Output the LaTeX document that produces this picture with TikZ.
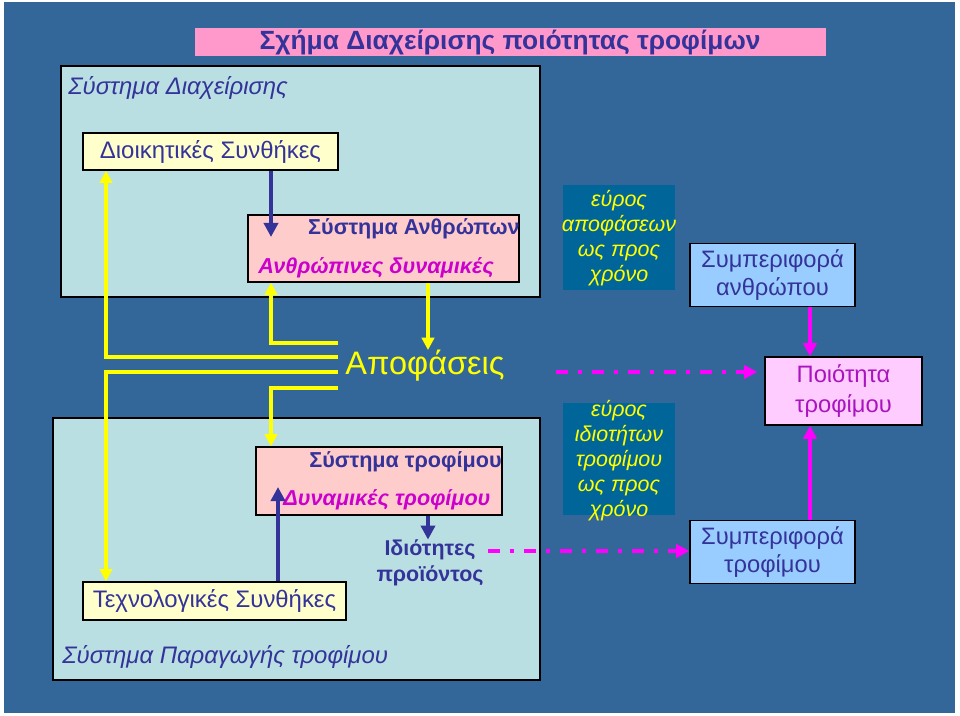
\documentclass[tikz,border=0pt]{standalone}
\usepackage{fontspec}
\setmainfont{Liberation Sans}
\usetikzlibrary{arrows.meta}

\definecolor{bgblue}{RGB}{51,102,153}
\definecolor{syscyan}{RGB}{185,223,226}
\definecolor{titlepink}{RGB}{255,153,204}
\definecolor{subpink}{RGB}{255,204,204}
\definecolor{condyellow}{RGB}{255,255,204}
\definecolor{rangeblue}{RGB}{0,102,153}
\definecolor{behavblue}{RGB}{153,204,255}
\definecolor{qualpink}{RGB}{255,204,255}
\definecolor{qualtext}{RGB}{170,20,190}
\definecolor{textblue}{RGB}{51,51,153}
\definecolor{dynmagenta}{RGB}{204,0,204}
\definecolor{arrowyellow}{RGB}{255,255,0}
\definecolor{arrowmagenta}{RGB}{255,0,255}

\tikzset{
  sysbox/.style={draw=black, fill=syscyan, line width=0.7pt},
  label/.style={inner sep=0pt, text=textblue},
  condbox/.style={draw=black, fill=condyellow, line width=0.7pt, text=textblue,
    font=\fontsize{13.6}{15}\selectfont},
  subbox/.style={draw=black, fill=subpink, line width=0.7pt},
  subtitle/.style={inner sep=0pt, text=textblue, font=\bfseries\fontsize{12.3}{14}\selectfont},
  dynlabel/.style={inner sep=0pt, text=dynmagenta, font=\bfseries\itshape\fontsize{12.3}{14}\selectfont},
  rangebox/.style={fill=rangeblue},
  rangetext/.style={inner sep=0pt, align=center, text=arrowyellow, font=\itshape\fontsize{12.2}{14.2}\selectfont},
  behavbox/.style={draw=black, fill=behavblue, line width=0.7pt, align=center, text=textblue,
    font=\fontsize{13.5}{16.4}\selectfont},
  qualbox/.style={draw=black, fill=qualpink, line width=0.7pt, align=center, text=qualtext,
    font=\fontsize{13.5}{16.8}\selectfont},
  yellowline/.style={draw=arrowyellow, line width=2.3pt, -{Triangle[width=7pt,length=7pt]}},
  blueline/.style={draw=textblue, line width=2.8pt, -{Triangle[width=8pt,length=8pt]}},
  magline/.style={draw=arrowmagenta, line width=2.8pt, -{Triangle[width=7.5pt,length=7.5pt]}},
  dashdotline/.style={draw=arrowmagenta, line width=2.3pt, dash pattern=on 6.8pt off 5.7pt on 2.3pt off 5.7pt,
    -{Triangle[width=7.5pt,length=7.5pt]}}
}

\begin{document}
\begin{tikzpicture}[x=0.02cm, y=-0.02cm]
\useasboundingbox (0,0) rectangle (960,716);
\fill[white] (0,0) rectangle (960,716);
\fill[bgblue] (4,2) rectangle (955,713);

\fill[titlepink] (195,28) rectangle (826,56);
\node[label, font=\bfseries\fontsize{15}{17}\selectfont] (title) at (510,43) {Σχήμα Διαχείρισης ποιότητας τροφίμων};

\filldraw[sysbox] (61,66) rectangle (540,297);
\filldraw[sysbox] (53,418) rectangle (540,680);
\node[label, anchor=west, font=\itshape\fontsize{13.6}{15}\selectfont] (mgmt) at (68,88) {Σύστημα Διαχείρισης};
\node[label, anchor=west, font=\itshape\fontsize{13.6}{15}\selectfont] (prod) at (62,657) {Σύστημα Παραγωγής τροφίμου};

\node[condbox, minimum width=5.1cm, minimum height=0.74cm] (admin) at (210.5,151.5) {Διοικητικές Συνθήκες};
\node[condbox, minimum width=5.26cm, minimum height=0.76cm] (tech) at (214.5,601) {Τεχνολογικές Συνθήκες};

\node[subbox, minimum width=5.42cm, minimum height=1.34cm] (human) at (383.5,248.5) {};
\node[subtitle, anchor=east] (humant) at (520,229) {Σύστημα Ανθρώπων};
\node[dynlabel, anchor=west] (humand) at (258,268) {Ανθρώπινες δυναμικές};
\node[subbox, minimum width=4.92cm, minimum height=1.36cm] (food) at (379,481) {};
\node[subtitle, anchor=east] (foodt) at (502,462) {Σύστημα τροφίμου};
\node[dynlabel, anchor=west] (foodd) at (283,500) {Δυναμικές τροφίμου};

\node[rangebox, minimum width=2.24cm, minimum height=2.1cm] (rangeD) at (619,237.5) {};
\node[rangetext] (rangeDt) at (619,238) {εύρος\\αποφάσεων\\ως προς\\χρόνο};
\node[rangebox, minimum width=2.24cm, minimum height=2.24cm] (rangeP) at (619,459) {};
\node[rangetext] (rangePt) at (619,461) {εύρος\\ιδιοτήτων\\τροφίμου\\ως προς\\χρόνο};

\node[behavbox, minimum width=3.3cm, minimum height=1.2cm] (behH) at (772.5,275) {Συμπεριφορά\\ανθρώπου};
\node[behavbox, minimum width=3.3cm, minimum height=1.2cm] (behF) at (772.5,552) {Συμπεριφορά\\τροφίμου};
\node[qualbox, minimum width=3.14cm, minimum height=1.36cm] (qual) at (843.5,391) {Ποιότητα\\τροφίμου};

\node[inner sep=0pt, text=arrowyellow, font=\fontsize{18.5}{20}\selectfont] (dec) at (425,366) {Αποφάσεις};
\node[label, align=center, font=\bfseries\fontsize{12.2}{14.7}\selectfont] (prop) at (430,563) {Ιδιότητες\\προϊόντος};

\coordinate (leftrail) at (106,0);
\coordinate (midrail) at (271,0);
\coordinate (centrail) at (428,0);
\coordinate (techrail) at (278,0);
\coordinate (rightrail) at (810,0);
\coordinate (dA) at (338,343);
\coordinate (dB) at (338,357);
\coordinate (dC) at (338,372);
\coordinate (dD) at (338,388);
\coordinate (humanIn) at (271,237);
\coordinate (foodIn) at (278,487);
\coordinate (decOut) at (556,372);
\coordinate (propOut) at (488,551);

\begin{scope}[yellowline]
\draw (dB) -| (leftrail |- admin.south);
\draw (dA) -| (midrail |- human.south);
\draw (human.south -| centrail) -- (centrail |- dec.north);
\draw (dC) -| (leftrail |- tech.north);
\draw (dD) -| (midrail |- food.north);
\end{scope}

\begin{scope}[blueline]
\draw (admin.south -| midrail) -- (humanIn);
\draw (tech.north -| techrail) -- (foodIn);
\draw (food.south -| centrail) -- (centrail |- prop.north);
\end{scope}

\begin{scope}[magline]
\draw (behH.south -| rightrail) -- (qual.north -| rightrail);
\draw (behF.north -| rightrail) -- (qual.south -| rightrail);
\end{scope}

\draw[dashdotline, shorten >=4pt] (decOut) -- (decOut -| qual.west);
\draw[dashdotline] (propOut) -- (propOut -| behF.west);

\end{tikzpicture}
\end{document}
